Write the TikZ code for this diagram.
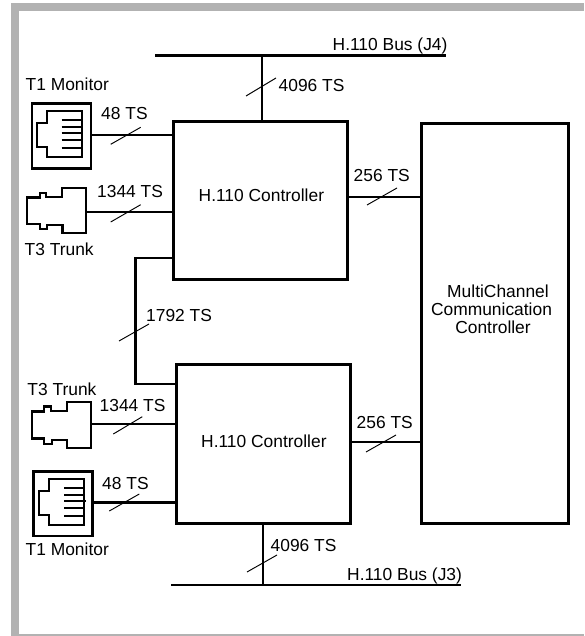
\documentclass[tikz,border=0pt]{standalone}
\usepackage{fontspec}
\setmainfont{Liberation Sans}
\tikzset{
  wire/.style={line width=2.9pt,line cap=rect},
  busline/.style={line width=2.9pt,line cap=butt},
  slash/.style={line width=0.95pt},
  block/.style={draw,line width=3pt,fill=white,inner sep=0pt,anchor=north west},
  lab/.style={inner sep=0pt,font=\fontsize{17.4}{18}\selectfont,anchor=base west},
  jackline/.style={line width=1.8pt,line cap=butt,line join=miter},
  pin/.style={line width=2.1pt},
}
\newcommand{\jack}[2]{%
  \begin{scope}[shift={(#1,#2)}]
    \draw[jackline] (16.2,8.7) -- (51.2,8.7) -- (51.2,55.3) -- (16.2,55.3) -- (16.2,45.3) -- (6.2,45.3) -- (6.2,21.3) -- (16.2,21.3) -- cycle;
    \foreach \yy/\xb in {18/51.2,24.7/51.2,30.7/52.8,38/51.2,46/51.2}{\draw[pin] (31.2,\yy) -- (\xb,\yy);}
  \end{scope}}
\newcommand{\trunk}[3]{%
  \begin{scope}[shift={(#1,#2)},yscale=#3]
    \draw[jackline,line width=2.1pt] (0,9.5) -- (12.7,9.5) -- (12.7,4.7) -- (19.3,4.7) -- (19.3,9) -- (35,9) -- (35,0) -- (59,0) -- (59,45) -- (35.5,45) -- (35.5,37.3) -- (20,37.3) -- (20,40.7) -- (12.7,40.7) -- (12.7,35.7) -- (0,35.7) -- cycle;
  \end{scope}}
\begin{document}
\begin{tikzpicture}[x=1pt,y=-1pt]
\useasboundingbox (0,0) rectangle (584,636);
\fill[white] (0,0) rectangle (584,636);
\fill[black!30] (11,3) rectangle (584,11);
\fill[black!30] (11,3) rectangle (19,636);
\fill[black!30] (11,634) rectangle (584,636);

\node[block,minimum width=174pt,minimum height=158pt] (ctrlA) at (172,120) {};
\node[block,minimum width=174.5pt,minimum height=158.5pt] (ctrlB) at (174.5,363) {};
\node[block,minimum width=147pt,minimum height=400pt] (mcc) at (420,122) {};
\node[lab] (ctrlAtext) at (198.5,201) {H.110 Controller};
\node[lab] (ctrlBtext) at (201,447) {H.110 Controller};
\node[lab,anchor=base] (mcc1) at (498,297) {MultiChannel};
\node[lab,anchor=base] (mcc2) at (491.5,315.5) {Communication};
\node[lab,anchor=base] (mcc3) at (493,333) {Controller};

\node[block,minimum width=59pt,minimum height=65pt,line width=2.8pt] (monA) at (30.5,102) {};
\node[block,minimum width=59pt,minimum height=64.5pt,line width=2.8pt] (monB) at (32,470) {};
\jack{30.5}{102}
\jack{32.8}{470}
\node[inner sep=0pt,minimum width=59pt,minimum height=45pt,anchor=north west] (trA) at (27,188) {};
\node[inner sep=0pt,minimum width=59pt,minimum height=46.5pt,anchor=north west] (trB) at (31.7,401.7) {};
\trunk{27}{188}{1}
\trunk{31.7}{401.7}{1.03}

\coordinate (busAl) at (155,55.5); \coordinate (busAr) at (446,55.5);
\coordinate (busBl) at (171,585); \coordinate (busBr) at (461,585);
\draw[busline] (busAl) -- (busAr);
\draw[busline] (busBl) -- (busBr);
\draw[wire] (262,0 |- busAl) -- (262,0 |- ctrlA.north);
\draw[wire] (263,0 |- ctrlB.south) -- (263,0 |- busBl);

\draw[wire] (monA.east |- 0,135) -- (ctrlA.west |- 0,135);
\draw[wire] (trA.east |- 0,212) -- (ctrlA.west |- 0,212);
\draw[wire] (monB.east |- 0,502.5) -- (ctrlB.west |- 0,502.5);
\draw[wire] (trB.east |- 0,424) -- (ctrlB.west |- 0,424);
\draw[busline] (ctrlA.east |- 0,197) -- (mcc.west |- 0,197);
\draw[busline] (ctrlB.east |- 0,442) -- (mcc.west |- 0,442);
\draw[wire] (ctrlA.west |- 0,258) -- (135.5,258) -- (135.5,384) -- (ctrlB.west |- 0,384);

\draw[slash] (110.7,144.3) -- (140.7,127.3);
\draw[slash] (110.7,222) -- (140.7,204.7);
\draw[slash] (113.3,434) -- (142.3,416.7);
\draw[slash] (109.3,511) -- (139.3,494);
\draw[slash] (246,96) -- (276,78);
\draw[slash] (247,572) -- (277,555);
\draw[slash] (367,205) -- (397,188);
\draw[slash] (366,452) -- (396,435);
\draw[slash] (119,341) -- (149,324);

\node[lab] (l1) at (25.5,91) {T1 Monitor};
\node[lab] (l2) at (24.5,255.5) {T3 Trunk};
\node[lab] (l3) at (27.2,395) {T3 Trunk};
\node[lab] (l4) at (25.5,555) {T1 Monitor};
\node[lab] (l5) at (101,119.5) {48 TS};
\node[lab] (l6) at (97,197) {1344 TS};
\node[lab] (l7) at (99.5,411.5) {1344 TS};
\node[lab] (l8) at (102,489) {48 TS};
\node[lab] (l9) at (278.5,92) {4096 TS};
\node[lab] (l10) at (270.5,551) {4096 TS};
\node[lab] (l11) at (353.5,182) {256 TS};
\node[lab] (l12) at (356.5,428) {256 TS};
\node[lab] (l13) at (146,321) {1792 TS};
\node[lab] (l14) at (332.5,51) {H.110 Bus (J4)};
\node[lab] (l15) at (347,580) {H.110 Bus (J3)};
\end{tikzpicture}
\end{document}
